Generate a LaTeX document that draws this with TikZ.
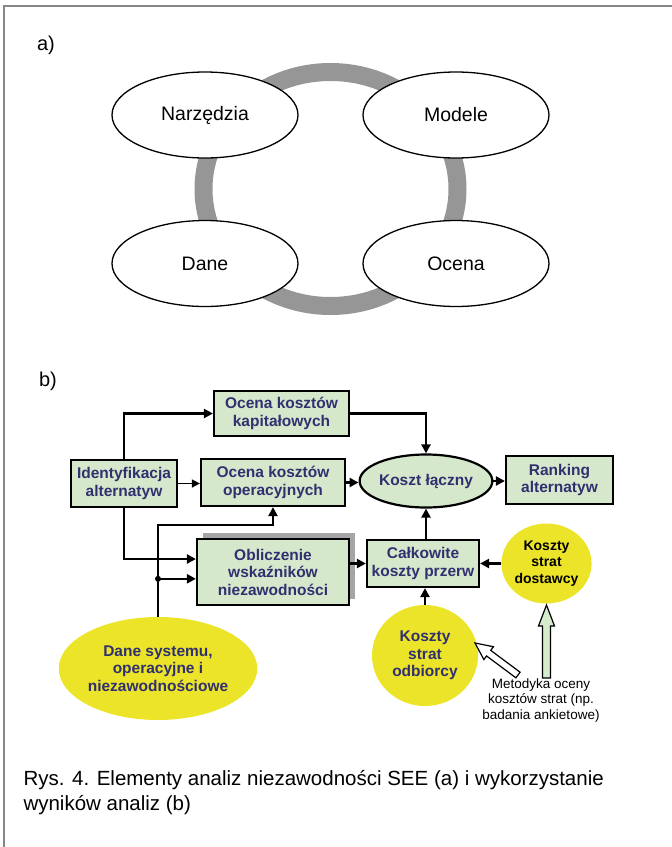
\documentclass[tikz,border=0pt]{standalone}
\usepackage{fontspec}
\setmainfont{Liberation Sans}
\usetikzlibrary{calc,arrows.meta,shapes.geometric}
\definecolor{ringgray}{RGB}{150,150,150}
\definecolor{boxg}{RGB}{214,232,203}
\definecolor{yel}{RGB}{236,228,40}
\definecolor{navy}{RGB}{48,48,112}
\definecolor{framegray}{RGB}{135,135,135}
\definecolor{shad}{RGB}{165,165,165}
\definecolor{arrg}{RGB}{214,234,204}
\newcommand\fsz[2]{\fontsize{#1}{#2}\selectfont}
% hollow arrow: #1 tail, #2 tip, #3 fill, #4 head length, #5 half shaft, #6 half head
\newcommand\holarr[6]{%
  \coordinate (#1neck) at ($(#2)!#4!(#1)$);
  \draw[line width=1.2pt, fill=#3, line join=miter]
    ($(#1)!#5!90:(#2)$) -- ($(#1neck)!#5!90:(#2)$) -- ($(#1neck)!#6!90:(#2)$) -- (#2)
    -- ($(#1neck)!#6!-90:(#2)$) -- ($(#1neck)!#5!-90:(#2)$) -- ($(#1)!#5!-90:(#2)$) -- cycle;}
\begin{document}
\begin{tikzpicture}[x=1pt,y=-1pt,
  aell/.style={ellipse, draw, line width=1.3pt, fill=white, minimum width=186pt,
    minimum height=86pt, inner sep=0pt, font=\fsz{19.5}{22}},
  gbox/.style={draw, line width=2.2pt, fill=boxg, inner sep=0pt, align=center,
    text=navy, font=\bfseries\fsz{15.5}{17.5}},
  yell/.style={ellipse, fill=yel, inner sep=0pt, align=center, text=navy,
    font=\bfseries\fsz{15.5}{17.5}},
  arr/.style={line width=2.4pt, -{Triangle[length=9pt,width=9pt]}},
  tarr/.style={line width=1.4pt, -{Triangle[length=8pt,width=8pt]}},
  lbl/.style={font=\fsz{20}{24}},
  capt/.style={anchor=base west, font=\fsz{20.5}{25}}]
\useasboundingbox (0,0) rectangle (672,847);
% frame
\coordinate (fbl) at (4,847);
\coordinate (ftl) at (4,6);
\coordinate (ftr) at (672,6);
\draw[framegray, line width=1.5pt] (fbl) -- (ftl) -- (ftr);

% ---------------- part a
\node[lbl] (la) at (46,45) {a)};
\coordinate (rc) at (330.5,189);
\draw[ringgray, line width=18pt] (rc) ellipse [x radius=127, y radius=117];
\node[aell] (narz) at (205,115) {Narzędzia};
\node[aell] (mod) at (456,115) {Modele};
\node[aell] (danea) at (205,263.5) {Dane};
\node[aell] (oc) at (456,263.5) {Ocena};

% ---------------- part b
\node[lbl] (lb) at (48,381) {b)};
\node[gbox, minimum width=135pt, minimum height=45pt] (kap) at (281.5,413.5) {Ocena kosztów\\kapitałowych};
\node[gbox, minimum width=106pt, minimum height=47pt] (ident) at (124,483.5) {Identyfikacja\\alternatyw};
\node[gbox, minimum width=144pt, minimum height=47pt] (oper) at (273,482.5) {Ocena kosztów\\operacyjnych};
\node[gbox, ellipse, minimum width=105pt, minimum height=53pt] (kl) at (426,481) {Koszt łączny};
\node[gbox, minimum width=107pt, minimum height=48pt] (rank) at (559.5,480) {Ranking\\alternatyw};
\node[fill=shad, minimum width=152pt, minimum height=66pt, inner sep=0pt] (oblsh) at (279,566) {};
\node[gbox, minimum width=152pt, minimum height=66pt] (obl) at (273,572) {Obliczenie\\wskaźników\\niezawodności};
\node[gbox, minimum width=112pt, minimum height=47pt] (calk) at (423,563.5) {Całkowite\\koszty przerw};
\node[yell, minimum width=85pt, minimum height=80pt, text=black, font=\bfseries\fsz{14}{16.5}] (dost) at (546.5,563.5) {Koszty\\strat\\dostawcy};
\node[yell, minimum width=106pt, minimum height=101pt] (odb) at (425,655.5) {Koszty\\strat\\odbiorcy};
\node[yell, minimum width=167pt, minimum height=103pt] (dsys) at (158,668.5) {Dane systemu,\\operacyjne i\\niezawodnościowe};
\node[align=center, font=\fsz{13.5}{15.5}] (met) at (541,700) {Metodyka oceny\\kosztów strat (np.\\badania ankietowe)};

% connectors
\draw[arr] (ident.north) |- (kap.west);
\draw[tarr] (ident.east) -- (ident.east -| oper.west);
\draw[arr] (ident.south) |- ($(obl.west)+(0,-13)$);
\draw[arr] (dsys.north) |- ($(oper.south)+(0,18)$) -- (oper.south);
\path (dsys.north) ++(0,-38) coordinate (bj);
\fill (bj) circle[radius=3pt];
\draw[arr] (bj) -- (bj -| obl.west);
\draw[arr] (kap.east) -| (kl.north);
\draw[arr] (oper.east) -- (oper.east -| kl.west);
\draw[arr] (kl.east) -- (kl.east -| rank.west);
\draw[arr] (obl.east |- calk.west) -- (calk.west);
\draw[arr] (calk.north -| kl.south) -- (kl.south);
\draw[arr] (dost.west) -- (dost.west -| calk.east);
\draw[arr] (odb.north) -- (odb.north |- calk.south);

% hollow arrows
\coordinate (ta) at (518,675);
\coordinate (pa) at (475,643);
\holarr{ta}{pa}{white}{17pt}{3.5pt}{8pt}
\coordinate (tb) at (546.5,678);
\coordinate (pb) at (546.5,605);
\holarr{tb}{pb}{arrg}{21pt}{4pt}{8pt}

% caption
\node[capt] (cap1) at (20,785) {Rys. 4. Elementy analiz niezawodności SEE (a) i wykorzystanie};
\node[capt] (cap2) at (20,810) {wyników analiz (b)};
\end{tikzpicture}
\end{document}
